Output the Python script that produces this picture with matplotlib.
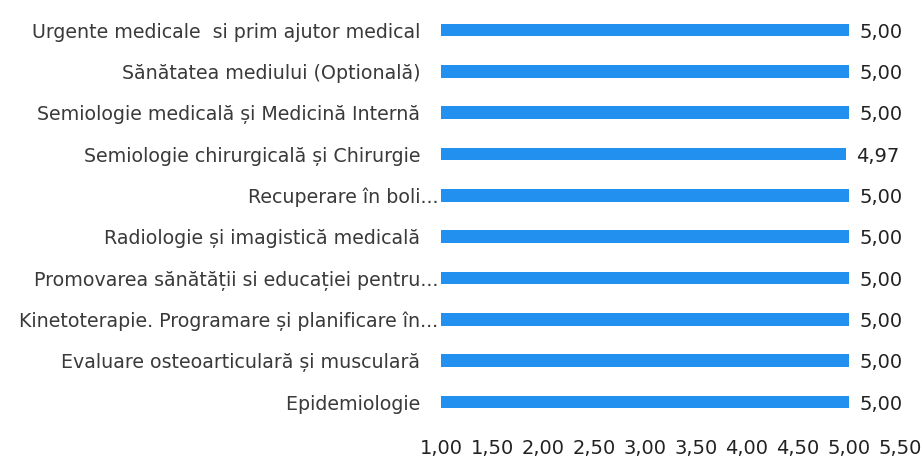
import matplotlib
matplotlib.use("Agg")
import matplotlib.pyplot as plt

categories = [
    "Urgente medicale  si prim ajutor medical   ",
    "Sănătatea mediului (Optională)   ",
    "Semiologie medicală și Medicină Internă   ",
    "Semiologie chirurgicală și Chirurgie   ",
    "Recuperare în boli...",
    "Radiologie și imagistică medicală   ",
    "Promovarea sănătății si educației pentru...",
    "Kinetoterapie. Programare și planificare în...",
    "Evaluare osteoarticulară și musculară   ",
    "Epidemiologie   ",
]
values = [5.00, 5.00, 5.00, 4.97, 5.00, 5.00, 5.00, 5.00, 5.00, 5.00]
xticks = [1.0, 1.5, 2.0, 2.5, 3.0, 3.5, 4.0, 4.5, 5.0, 5.5]

plt.rcParams["font.family"] = ["DejaVu Sans"]

fig = plt.figure(figsize=(9.22, 4.66), dpi=100)
ax = fig.add_axes([441 / 922, 43.3 / 466, 459 / 922, 413.3 / 466])

base = xticks[0]
ypos = list(range(len(categories)))
ax.barh(ypos, [v - base for v in values], left=base, height=0.31,
        color="#2190ee")
for y, v in zip(ypos, values):
    ax.text(v + 0.1, y + 0.05, f"{v:.2f}".replace(".", ","), va="center",
            ha="left", fontsize=14, color="#222222")

ax.set_yticks(ypos)
ax.set_yticklabels(categories, fontsize=13.7, color="#3a3a3a")
ax.set_ylim(len(categories) - 0.5, -0.5)
ax.set_xlim(xticks[0], xticks[-1])
ax.set_xticks(xticks)
ax.set_xticklabels([f"{t:.2f}".replace(".", ",") for t in xticks],
                   fontsize=14, color="#222222")
ax.tick_params(length=0)
ax.tick_params(axis="y", pad=2)
ax.tick_params(axis="x", pad=12)
for s in ax.spines.values():
    s.set_visible(False)

fig.savefig("out.png", dpi=100)
